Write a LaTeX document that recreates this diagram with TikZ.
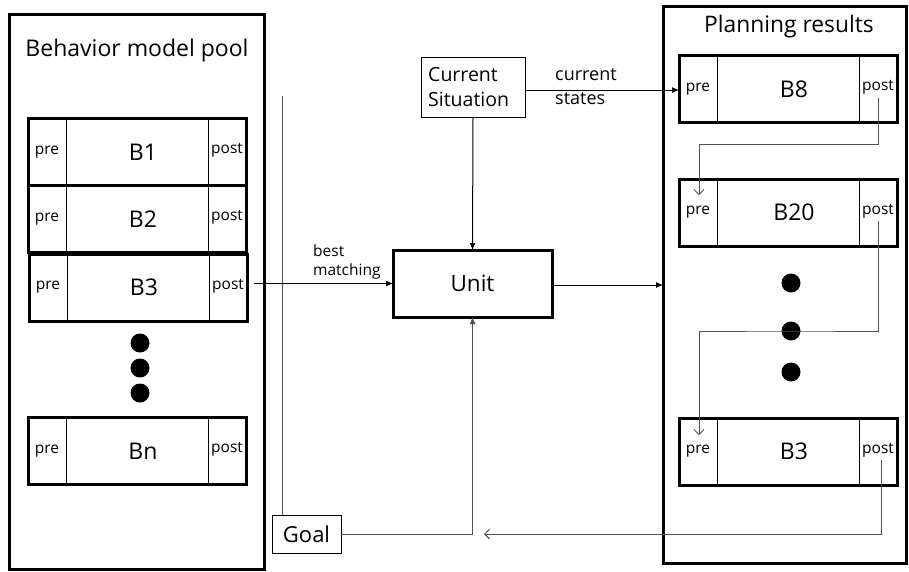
\documentclass[tikz,border=0pt]{standalone}
\usepackage{fontspec}
\setmainfont{Open Sans}
\usetikzlibrary{arrows.meta,calc}

\definecolor{thinline}{HTML}{505050}

\tikzset{
  fs/.style n args={2}{font=\fontsize{#1}{#2}\selectfont},
  bigbox/.style={draw, line width=3pt, outer sep=0pt, inner sep=0pt},
  rowbox/.style={draw, line width=3pt, outer sep=0pt, inner sep=0pt,
    minimum width=218pt, minimum height=67pt},
  rowlabel/.style={inner sep=0pt, fs={23}{27}},
  divider/.style={line width=0.9pt},
  tag/.style={inner sep=1pt, fs={15.5}{18}},
  unitbox/.style={draw, line width=3pt, minimum width=159pt, minimum height=67pt,
    outer sep=0pt, fs={22.5}{27}},
  smallbox/.style={draw, line width=0.8pt, outer sep=0pt},
  bigdot/.style={circle, fill, inner sep=0pt, minimum width=17pt, minimum height=19pt},
  feed/.style={line width=1pt, -{Latex[length=7pt,width=6pt]}},
  chain/.style={line width=1pt, draw=thinline, -{Straight Barb[length=5pt,width=10pt]}},
  plain/.style={line width=1pt, draw=thinline},
}

% one behaviour row: name, centre, label
\newcommand\behrow[3]{%
  \node[rowbox] (#1) at (#2) {};
  \node[rowlabel] (#1-label) at ([xshift=6pt]#1.center) {#3};
  \draw[divider] ([xshift=38pt]#1.north west) -- ([xshift=38pt]#1.south west);
  \draw[divider] ([xshift=-38pt]#1.north east) -- ([xshift=-38pt]#1.south east);
  \node[tag] (#1-pre) at ([xshift=19pt]#1.west) {pre};
  \node[tag] (#1-post) at ([xshift=-19pt,yshift=1.5pt]#1.east) {post};
}

\begin{document}
\begin{tikzpicture}[x=1pt, y=-1pt]
\useasboundingbox (0,0) rectangle (909,571);

% behaviour model pool
\node[bigbox, minimum width=255pt, minimum height=555pt] (pool) at (136.5,291.5) {};
\node[fs={23}{27}] (pooltitle) at (137,51) {Behavior model pool};
\behrow{b1}{137,152}{B1}
\behrow{b2}{137,219}{B2}
\behrow{b3}{138,287.5}{B3}
\behrow{bn}{137,451}{Bn}
\node[bigdot] (p1) at (140,343) {};
\node[bigdot] (p2) at (140,368) {};
\node[bigdot] (p3) at (140,393) {};

% planning results
\node[bigbox, minimum width=243pt, minimum height=557pt] (plan) at (784.5,284.5) {};
\node[fs={22.8}{27}] (plantitle) at (789,27) {Planning results};
\behrow{b8}{788,89}{B8}
\behrow{b20}{788,212.5}{B20}
\behrow{r3}{788,451.5}{B3}
\node[bigdot] (q1) at (791,283) {};
\node[bigdot] (q2) at (791,331) {};
\node[bigdot] (q3) at (791,372) {};

% middle part
\node[smallbox, minimum width=104pt, minimum height=60pt] (cs) at (473,87) {};
\node[fs={19.5}{25}, align=left, anchor=west, inner sep=0pt] (cstext) at (428,87)
  {Current\\Situation};
\node[unitbox] (unit) at (472.5,283.5) {Unit};
\node[smallbox, minimum width=69pt, minimum height=38pt, fs={22}{26}] (goal) at (306.5,534) {Goal};

% connectors
\coordinate (vtop) at (282,96);
\draw[plain] (vtop) -- (vtop |- goal.north);

\draw[feed] (cs.south) -- (unit.north);
\draw[feed] ([yshift=-3pt]cs.east) -- ([yshift=-3pt]cs.east -| b8.west);
\node[anchor=west, align=left, fs={18}{24}, inner sep=0pt] (cslabel) at (555,87)
  {current\\states};

\draw[feed] ([xshift=7pt]b3.east |- unit.west) -- (unit.west);
\node[anchor=west, align=left, fs={15.5}{19}, inner sep=0pt] (bmlabel) at (313,262)
  {best\\matching};

\draw[feed] ([yshift=-1.5pt]unit.east) -- ([yshift=-1.5pt]unit.east -| plan.west);
\draw[plain, -{Latex[length=7pt,width=6pt]}] (goal.east) -| (unit.south);

\draw[chain] ([yshift=-2pt]b8-post.south) -- ++(0,47) -| ([xshift=1pt,yshift=10pt]b20-pre.north);
\draw[chain] ([yshift=-2pt]b20-post.south) |- (q2.center) -| ([xshift=1pt,yshift=9pt]r3-pre.north);
\coordinate (back) at (484,534);
\draw[chain] ([xshift=3pt,yshift=-2pt]r3-post.south) |- (back);
\end{tikzpicture}
\end{document}
